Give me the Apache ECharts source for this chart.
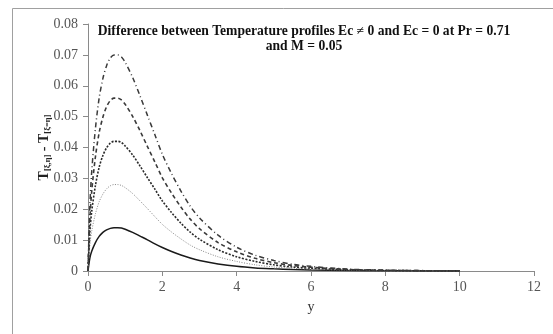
<!DOCTYPE html>
<html><head><meta charset="utf-8">
<script src="https://cdn.jsdelivr.net/npm/echarts@6/dist/echarts.min.js"></script>
<style>html,body{margin:0;padding:0;background:#fff}#c{width:553px;height:334px}</style>
</head><body><div id="c"></div>
<script>
const yPos = [0, 0.05, 0.1, 0.2, 0.3, 0.4, 0.5, 0.6, 0.7, 0.8, 0.9, 1.0, 1.2, 1.4, 1.6, 1.8, 2.0, 2.25, 2.5, 2.75, 3.0, 3.5, 4.0, 4.5, 5.0, 5.5, 6.0, 7.0, 8.0, 9.0, 10.0];
const curve1 = [0, 0.0042, 0.0064, 0.0092, 0.0112, 0.0125, 0.0133, 0.0138, 0.0140, 0.0140, 0.0139, 0.0135, 0.0125, 0.0113, 0.0101, 0.0088, 0.0076, 0.0063, 0.0052, 0.0042, 0.0034, 0.0023, 0.0015, 0.0010, 0.0007, 0.00045, 0.0003, 0.00013, 0.00006, 0.00003, 0.00001];
const curve2 = [0, 0.0084, 0.0129, 0.0185, 0.0224, 0.0249, 0.0266, 0.0276, 0.0280, 0.0280, 0.0277, 0.0270, 0.0251, 0.0227, 0.0202, 0.0176, 0.0151, 0.0126, 0.0104, 0.0084, 0.0069, 0.0046, 0.0031, 0.0020, 0.0013, 0.0009, 0.0006, 0.00025, 0.00011, 0.00005, 0.00002];
const curve3 = [0, 0.0126, 0.0193, 0.0277, 0.0336, 0.0374, 0.0399, 0.0414, 0.0420, 0.0420, 0.0416, 0.0405, 0.0376, 0.0340, 0.0302, 0.0265, 0.0227, 0.0189, 0.0155, 0.0126, 0.0103, 0.0069, 0.0046, 0.0031, 0.0020, 0.0013, 0.0009, 0.0004, 0.00017, 0.00008, 0.00003];
const curve4 = [0, 0.0168, 0.0258, 0.0370, 0.0448, 0.0498, 0.0532, 0.0552, 0.0560, 0.0560, 0.0554, 0.0540, 0.0501, 0.0454, 0.0403, 0.0353, 0.0302, 0.0252, 0.0207, 0.0168, 0.0137, 0.0092, 0.0062, 0.0041, 0.0027, 0.0018, 0.0012, 0.0005, 0.00022, 0.0001, 0.00004];
const curve5 = [0, 0.0210, 0.0322, 0.0462, 0.0560, 0.0623, 0.0665, 0.0690, 0.0700, 0.0700, 0.0693, 0.0676, 0.0627, 0.0567, 0.0504, 0.0441, 0.0378, 0.0315, 0.0259, 0.0210, 0.0172, 0.0116, 0.0077, 0.0051, 0.0034, 0.0022, 0.0015, 0.0006, 0.00028, 0.00013, 0.00006];
const titleLines = ['Difference between Temperature profiles Ec \u2260 0 and Ec = 0 at Pr = 0.71', 'and M = 0.05'];

const font = '"Liberation Serif","Times New Roman",serif';
function pairs(v){ return yPos.map((x,i)=>[x, v[i]]); }
const styles = [
  {data: curve1, color:'#1a1a1a', width:1.5, type:'solid'},
  {data: curve2, color:'#888', width:1, type:[1,1.5]},
  {data: curve3, color:'#2a2a2a', width:1.6, type:[2,1.5]},
  {data: curve4, color:'#3a3a3a', width:1.6, type:[4,3]},
  {data: curve5, color:'#3a3a3a', width:1.5, type:[5,3,1,3]}
];
const chart = echarts.init(document.getElementById('c'));
chart.setOption({
  animation:false,
  backgroundColor:'#fff',
  graphic:[{type:'rect', shape:{x:12.5,y:8.5,width:600,height:400}, style:{fill:'none', stroke:'#a0a0a0', lineWidth:1}, z:-1}],
  title:{text: titleLines.join('\n'), left:299, top:19, textAlign:'center',
    textStyle:{fontFamily:font, fontWeight:'bold', fontSize:13.6, color:'#111', lineHeight:15}},
  grid:{left:88, right:19, top:24, bottom:63},
  xAxis:{type:'value', min:0, max:12, interval:2,
    name:'y', nameLocation:'middle', nameGap:29,
    nameTextStyle:{fontFamily:font, fontSize:14, color:'#333'},
    axisLine:{lineStyle:{color:'#8a8a8a'}}, axisTick:{length:5, lineStyle:{color:'#8a8a8a'}},
    axisLabel:{fontFamily:font, fontSize:14, color:'#555', margin:9},
    splitLine:{show:false}},
  yAxis:{type:'value', min:0, max:0.08, interval:0.01,
    name:'{t|T}{s|[\u03be,\u03b7]}{t| - T}{s|[\u03be=\u03b7]}', nameLocation:'middle', nameGap:36, nameRotate:90,
    nameMoveOverlap:false,
    nameTextStyle:{fontFamily:font, fontWeight:'bold', color:'#222',
      rich:{t:{fontFamily:font, fontWeight:'bold', fontSize:14, color:'#222'}, s:{fontFamily:font, fontWeight:'bold', fontSize:8.5, color:'#222', verticalAlign:'bottom', padding:[6,0,0,0]}}},
    axisLine:{show:true, lineStyle:{color:'#8a8a8a'}}, axisTick:{show:true, length:5, lineStyle:{color:'#8a8a8a'}},
    axisLabel:{fontFamily:font, fontSize:14, color:'#555', margin:10},
    splitLine:{show:false}},
  series: styles.map(s=>({type:'line', data:pairs(s.data), showSymbol:false, smooth:0.3,
    lineStyle:{color:s.color, width:s.width, type:s.type}}))
});
</script></body></html>
